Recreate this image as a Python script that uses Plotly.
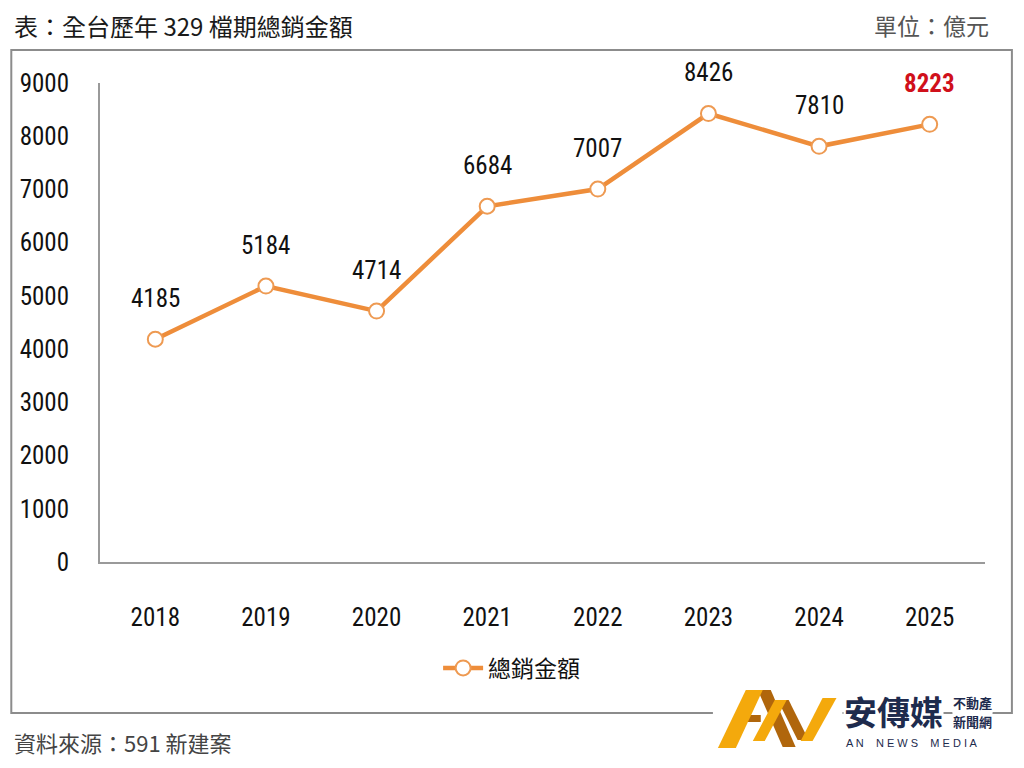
import plotly.graph_objects as go

years = ["2018", "2019", "2020", "2021", "2022", "2023", "2024", "2025"]
sales = [4185, 5184, 4714, 6684, 7007, 8426, 7810, 8223]
y_ticks = [0, 1000, 2000, 3000, 4000, 5000, 6000, 7000, 8000, 9000]
series_name = "總銷金額"
title_text = "表：全台歷年 329 檔期總銷金額"
unit_text = "單位：億元"
source_text = "資料來源：591 新建案"

NUM_FONT = "Liberation Sans Narrow, Arial Narrow, Roboto Condensed, Liberation Sans, sans-serif"
CJK_FONT = "Noto Sans CJK TC, Noto Sans CJK SC, sans-serif"

# the page body adds an 8px offset; work in screen pixels and compensate
OFF = 8
W, H = 1024 - 2 * OFF, 768 - 2 * OFF
L, R, T, B = 97 - OFF, 985 - OFF, 83 - OFF, 562 - OFF


def px(x):
    return (x - OFF - L) / (R - L)


def py(y):
    return (B - (y - OFF)) / (B - T)


fig = go.Figure()
fig.add_trace(go.Scatter(
    x=years, y=sales, name=series_name, mode="lines+markers",
    line=dict(color="#EE8D3A", width=4.5),
    marker=dict(symbol="circle", size=15, color="white",
                line=dict(color="#EE9A52", width=2)),
))

annotations = []
for i, (yr, v) in enumerate(zip(years, sales)):
    last = i == len(years) - 1
    annotations.append(dict(
        x=i, y=v, xref="x", yref="y", text=f"<b>{v}</b>" if last else str(v),
        showarrow=False, yshift=41,
        font=dict(family=NUM_FONT, size=25,
                  color="#D0101B" if last else "#111111"),
    ))

annotations += [
    dict(x=px(10), y=py(25), xref="paper", yref="paper", text=title_text,
         showarrow=False, xanchor="left", yanchor="middle", borderpad=0,
         font=dict(family=CJK_FONT, size=24, color="#1a1a1a")),
    dict(x=px(990), y=py(25), xref="paper", yref="paper", text=unit_text,
         showarrow=False, xanchor="right", yanchor="middle", borderpad=0,
         font=dict(family=CJK_FONT, size=23, color="#555555")),
    dict(x=px(10), y=py(742), xref="paper", yref="paper", text=source_text,
         showarrow=False, xanchor="left", yanchor="middle", borderpad=0,
         font=dict(family=CJK_FONT, size=22, color="#444444")),
    # logo texts
    dict(x=px(843), y=py(711), xref="paper", yref="paper", text="<b>安傳媒</b>",
         showarrow=False, xanchor="left", yanchor="middle", bgcolor="white", borderpad=0,
         font=dict(family=CJK_FONT, size=33, color="#1E2B4D")),
    dict(x=px(952), y=py(703), xref="paper", yref="paper", text="<b>不動產</b>",
         showarrow=False, xanchor="left", yanchor="middle", bgcolor="white", borderpad=0,
         font=dict(family=CJK_FONT, size=13, color="#1E2B4D")),
    dict(x=px(952), y=py(721), xref="paper", yref="paper", text="<b>新聞網</b>",
         showarrow=False, xanchor="left", yanchor="middle", bgcolor="white", borderpad=0,
         font=dict(family=CJK_FONT, size=13, color="#1E2B4D")),
    dict(x=px(845), y=py(743), xref="paper", yref="paper",
         text="A N    N E W S    M E D I A", borderpad=0,
         showarrow=False, xanchor="left", yanchor="middle",
         font=dict(family="Liberation Sans, sans-serif", size=11, color="#1E2B4D")),
]


def poly(points, color):
    path = "M " + " L ".join(f"{px(x)},{py(y)}" for x, y in points) + " Z"
    return dict(type="path", xref="paper", yref="paper", path=path,
                fillcolor=color, line=dict(width=0), layer="above")


GOLD = "#F4A90C"
BROWN = "#B0660C"
shapes = [
    dict(type="rect", xref="paper", yref="paper",
         x0=px(8), x1=px(1012), y0=py(713), y1=py(50),
         line=dict(color="#8C8C8C", width=2), fillcolor="rgba(0,0,0,0)", layer="below"),
    dict(type="rect", xref="paper", yref="paper",
         x0=px(712), x1=px(842), y0=py(749), y1=py(688),
         line=dict(width=0), fillcolor="white", layer="above"),
    poly([(757, 690), (770, 690), (795, 747), (782, 747)], BROWN),
    poly([(743, 715), (760, 715), (760, 722), (743, 722)], BROWN),
    poly([(717, 748), (735, 748), (762, 690), (745, 690)], GOLD),
    poly([(777, 700), (788, 700), (808, 740), (797, 740)], BROWN),
    poly([(752, 741), (764, 741), (786, 700), (774, 700)], GOLD),
    poly([(800, 741), (812, 741), (836, 698), (822, 698)], GOLD),
]

fig.update_layout(
    width=W, height=H,
    margin=dict(l=L, r=W - R, t=T, b=H - B),
    paper_bgcolor="white", plot_bgcolor="white",
    showlegend=True,
    legend=dict(orientation="h", x=px(510), y=py(668), xanchor="center", yanchor="middle",
                font=dict(family=CJK_FONT, size=23, color="#111111"),
                bgcolor="rgba(0,0,0,0)", itemwidth=40),
    annotations=annotations,
    shapes=shapes,
    xaxis=dict(type="category", range=[-0.5, 7.5], showgrid=False, zeroline=False,
               showline=True, linecolor="#9A9A9A", linewidth=2, ticks="",
               ticklabelstandoff=32,
               tickfont=dict(family=NUM_FONT, size=25, color="#111111")),
    yaxis=dict(range=[0, 9000], tickvals=y_ticks, showgrid=False, zeroline=False,
               showline=True, linecolor="#9A9A9A", linewidth=2, ticks="",
               ticklabelstandoff=24,
               tickfont=dict(family=NUM_FONT, size=25, color="#111111")),
)

fig.write_html("out.html")
